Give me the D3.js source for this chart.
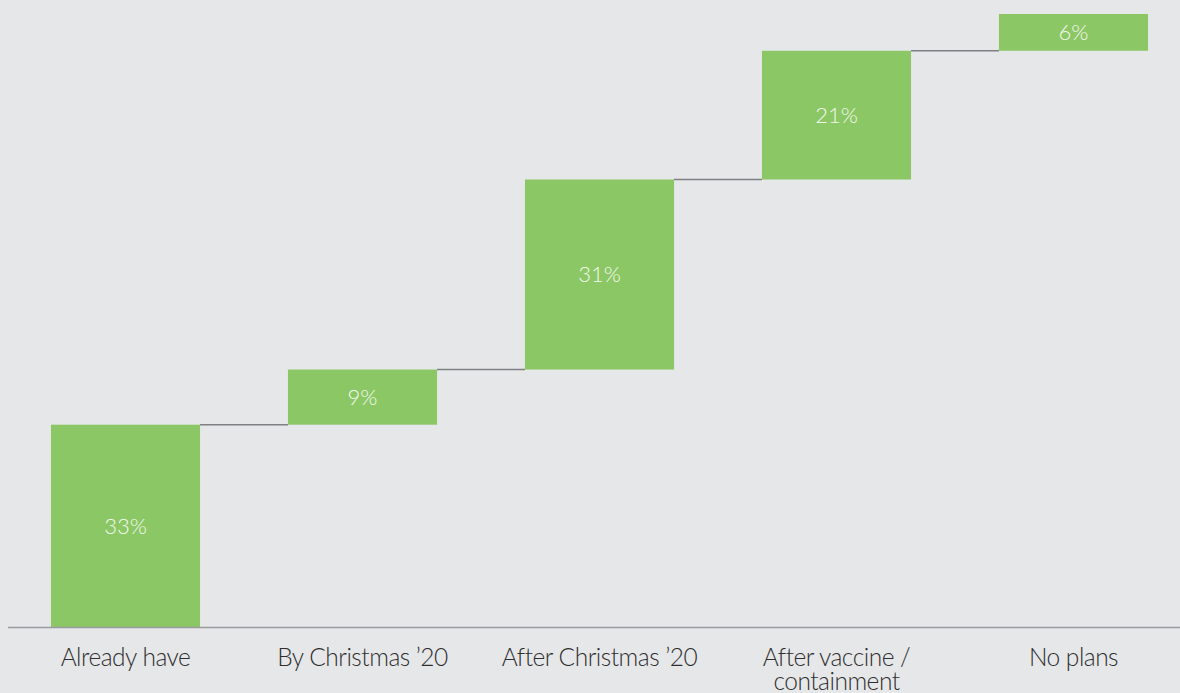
<!DOCTYPE html>
<html>
<head>
<meta charset="utf-8">
<script src="https://cdn.jsdelivr.net/npm/d3@7"></script>
<style>
  html, body { margin: 0; padding: 0; background: #e6e7e9; }
  svg { display: block; }
</style>
</head>
<body>
<svg id="chart" width="1180" height="693"></svg>
<script>
const categories = ["Already have", "By Christmas \u201920", "After Christmas \u201920", "After vaccine / containment", "No plans"];
const categoryLines = [["Already have"], ["By Christmas \u201920"], ["After Christmas \u201920"], ["After vaccine /", "containment"], ["No plans"]];
const values = [33, 9, 31, 21, 6];
const valueLabels = ["33%", "9%", "31%", "21%", "6%"];

const W = 1180, H = 693;
const svg = d3.select("#chart");
svg.append("rect").attr("width", W).attr("height", H).attr("fill", "#e6e7e9");

let cum = 0;
const data = values.map((v, i) => {
  const d = { cat: categories[i], lines: categoryLines[i], start: cum, end: cum + v, label: valueLabels[i] };
  cum += v;
  return d;
});

const x = d3.scaleBand().domain(categories).range([7, 1192]).paddingInner(0.371).paddingOuter(0.1855);
const y = d3.scaleLinear().domain([0, 100]).range([627, 14]);

// connectors
svg.append("g").selectAll("line").data(data.slice(0, -1)).join("line")
  .attr("x1", d => x(d.cat) + x.bandwidth())
  .attr("x2", (d, i) => x(categories[i + 1]))
  .attr("y1", d => y(d.end)).attr("y2", d => y(d.end))
  .attr("stroke", "#7f8083").attr("stroke-width", 1.5);

// bars
svg.append("g").selectAll("rect").data(data).join("rect")
  .attr("x", d => x(d.cat))
  .attr("width", x.bandwidth())
  .attr("y", d => y(d.end))
  .attr("height", d => y(d.start) - y(d.end))
  .attr("fill", "#8bc765");

// value labels
svg.append("g").selectAll("text").data(data).join("text")
  .attr("x", d => x(d.cat) + x.bandwidth() / 2)
  .attr("y", d => (y(d.start) + y(d.end)) / 2)
  .attr("dy", "0.36em")
  .attr("text-anchor", "middle")
  .attr("fill", "#f3f7ee")
  .style("font-family", "Lato, 'Open Sans', sans-serif")
  .style("font-weight", 300)
  .style("font-size", "22px")
  .text(d => d.label);

// baseline axis
svg.append("line")
  .attr("x1", 8).attr("x2", 1180)
  .attr("y1", y(0) + 0.5).attr("y2", y(0) + 0.5)
  .attr("stroke", "#9a9b9e").attr("stroke-width", 1.5);

// category labels
const lbl = svg.append("g").selectAll("text").data(data).join("text")
  .attr("x", d => x(d.cat) + x.bandwidth() / 2)
  .attr("y", 666)
  .attr("text-anchor", "middle")
  .attr("fill", "#2e2e2e")
  .style("font-family", "Lato, 'Open Sans', sans-serif")
  .style("font-weight", 300)
  .style("letter-spacing", "-0.5px")
  .style("font-size", "24.5px");
lbl.selectAll("tspan").data(d => d.lines).join("tspan")
  .attr("x", function () { return d3.select(this.parentNode).attr("x"); })
  .attr("dy", (d, i) => i === 0 ? 0 : 24)
  .text(d => d);
</script>
</body>
</html>
